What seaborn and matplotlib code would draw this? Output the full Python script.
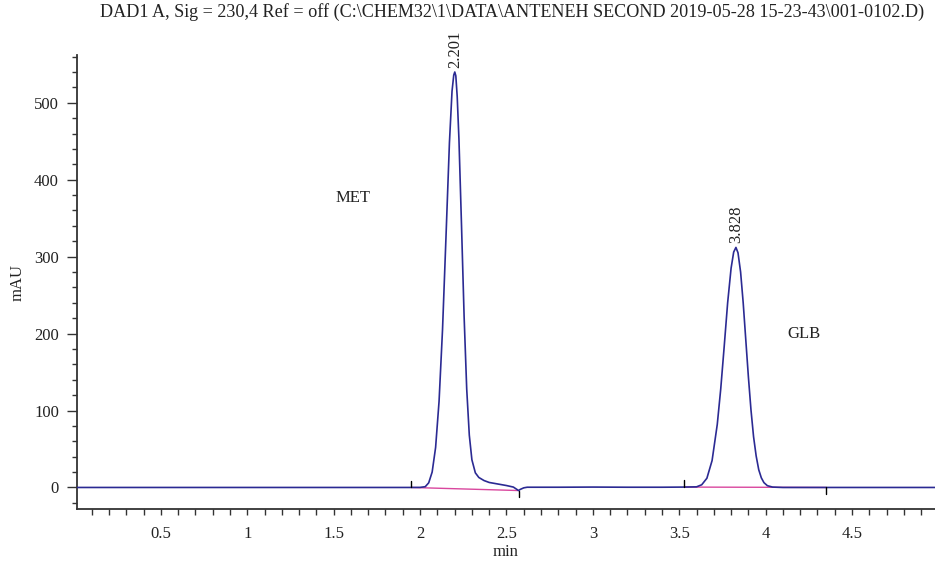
import matplotlib
matplotlib.use("Agg")
import matplotlib.pyplot as plt
import seaborn as sns
import pandas as pd
from matplotlib.ticker import MultipleLocator, FixedLocator

# ---- data ----
time_min = [0.015, 0.5, 1.0, 1.5, 1.9, 1.95, 2.00, 2.03, 2.05, 2.07, 2.09, 2.11, 2.13, 2.15,
            2.17, 2.185, 2.195, 2.201, 2.207, 2.215, 2.225, 2.24, 2.255, 2.27, 2.285, 2.30, 2.32,
            2.34, 2.37, 2.40, 2.45, 2.50, 2.54, 2.56, 2.57, 2.58, 2.60, 2.62, 2.65, 2.8,
            3.0, 3.2, 3.4, 3.53, 3.60, 3.63, 3.66, 3.69, 3.72, 3.74, 3.76, 3.78, 3.80,
            3.815, 3.828, 3.84, 3.855, 3.87, 3.885, 3.90, 3.915, 3.93, 3.945, 3.96, 3.975,
            3.99, 4.01, 4.04, 4.10, 4.35, 4.6, 4.98]
signal_mau = [0.0, 0.0, 0.0, 0.0, 0.0, 0.0, 0.1, 1.0, 6.0, 20.0, 52.0, 112.0, 205.0, 325.0,
              448.0, 515.0, 536.0, 540.0, 535.0, 508.0, 453.0, 340.0, 222.0, 128.0, 68.0, 36.0, 19.0,
              13.0, 9.0, 6.5, 4.5, 2.5, 0.5, -2.5, -4.0, -2.5, -0.5, 0.3, 0.3, 0.3,
              0.5, 0.3, 0.3, 0.5, 0.8, 3.5, 12.0, 35.0, 82.0, 128.0, 183.0, 240.0, 285.0,
              306.0, 312.0, 305.0, 280.0, 240.0, 192.0, 144.0, 101.0, 66.0, 41.0, 23.0, 12.5,
              6.3, 2.3, 0.5, 0.0, 0.0, 0.0, 0.0]

peak_rt = [2.201, 3.828]
peak_height = [540.0, 312.0]
peak_label = ["2.201", "3.828"]

int_start = [1.95, 3.53]
int_start_y = [0.0, 0.5]
int_end = [2.57, 4.35]
int_end_y = [-4.0, 0.0]

compound_names = ["MET", "GLB"]
compound_x = [1.61, 4.22]
compound_y = [376.0, 200.0]

title = r"DAD1 A, Sig = 230,4 Ref = off (C:\CHEM32\1\DATA\ANTENEH SECOND 2019-05-28 15-23-43\001-0102.D)"

# ---- styling ----
sns.set_style("ticks")
plt.rcParams["font.family"] = ["Liberation Serif", "DejaVu Serif"]
plt.rcParams["axes.edgecolor"] = "#333333"

trace_color = "#2b2a93"
base_color = "#d9479e"

fig = plt.figure(figsize=(9.35, 5.62), dpi=100)
ax = fig.add_axes([0.0824, 0.0943, 0.9176, 0.8077])

df = pd.DataFrame({"min": time_min, "mAU": signal_mau})

# integration baselines
for xs, ys, xe, ye in zip(int_start, int_start_y, int_end, int_end_y):
    ax.plot([xs, xe], [ys, ye], color=base_color, lw=1.0, zorder=2)

sns.lineplot(data=df, x="min", y="mAU", color=trace_color, lw=1.2, ax=ax, zorder=3)

# integration event tick marks
for xs, ys in zip(int_start, int_start_y):
    ax.plot([xs, xs], [ys, ys + 9], color="black", lw=1.0, zorder=4)
for xe, ye in zip(int_end, int_end_y):
    ax.plot([xe, xe], [ye, ye - 9], color="black", lw=1.0, zorder=4)

# peak labels
for rt, h, lab in zip(peak_rt, peak_height, peak_label):
    ax.annotate(lab, xy=(rt, h), xytext=(0, 3), textcoords="offset points",
                rotation=90, ha="center", va="bottom", fontsize=12, color="#222222")

for name, cx, cy in zip(compound_names, compound_x, compound_y):
    ax.text(cx, cy, name, ha="center", va="center", fontsize=12, color="#222222")

ax.set_xlim(0.015, 4.98)
ax.set_ylim(-28, 562)
ax.xaxis.set_major_locator(FixedLocator([0.5, 1.0, 1.5, 2.0, 2.5, 3.0, 3.5, 4.0, 4.5]))
ax.set_xticklabels(["0.5", "1", "1.5", "2", "2.5", "3", "3.5", "4", "4.5"])
ax.xaxis.set_minor_locator(MultipleLocator(0.1))
ax.yaxis.set_major_locator(FixedLocator([0, 100, 200, 300, 400, 500]))
ax.yaxis.set_minor_locator(MultipleLocator(20))

ax.tick_params(axis="x", which="both", direction="out", length=4, width=1.0,
               labelsize=12, pad=8, colors="#333333", labelcolor="#222222")
ax.tick_params(axis="y", which="major", direction="out", length=7, width=1.0,
               labelsize=12, pad=6, colors="#333333", labelcolor="#222222")
ax.tick_params(axis="y", which="minor", direction="out", length=3.5, width=1.0,
               colors="#333333")

ax.set_xlabel("min", fontsize=12, color="#222222", labelpad=2)
ax.set_ylabel("mAU", fontsize=12, color="#222222", labelpad=6)

for side in ["top", "right"]:
    ax.spines[side].set_visible(False)
ax.spines["left"].set_linewidth(1.3)
ax.spines["bottom"].set_linewidth(1.3)

fig.text(0.548, 0.978, title, ha="center", va="center", fontsize=13.1, color="#222222")

fig.savefig("out.png", dpi=100)
